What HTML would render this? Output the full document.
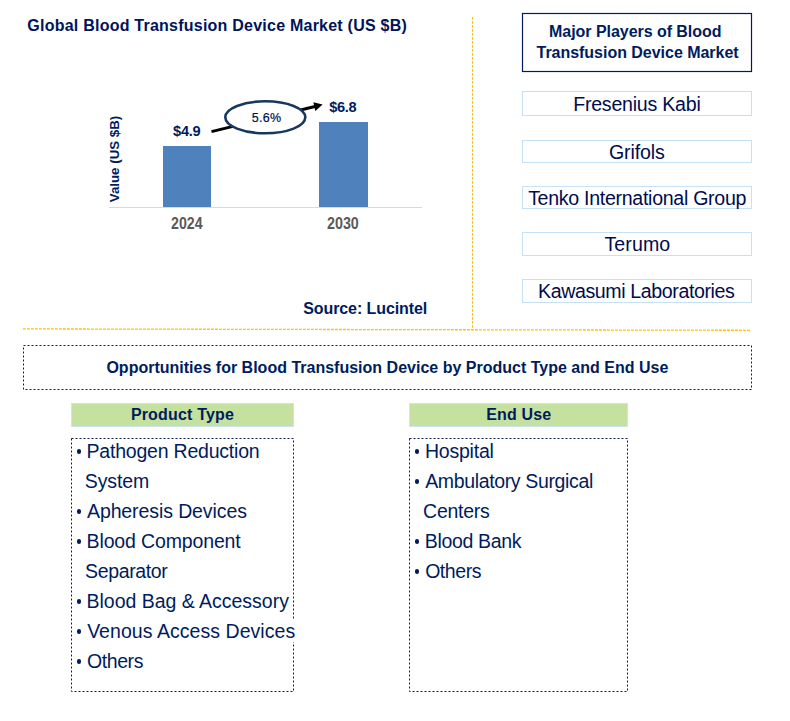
<!DOCTYPE html>
<html><head><meta charset="utf-8">
<style>
html,body{margin:0;padding:0;background:#fff;}
body{width:790px;height:721px;position:relative;overflow:hidden;font-family:"Liberation Sans",sans-serif;}
.t{position:absolute;white-space:nowrap;line-height:1;}
.dot{position:absolute;width:4.6px;height:4.8px;border-radius:50%;background:#001c5e;}
svg{position:absolute;left:0;top:0;}
</style></head>
<body>
<svg width="790" height="721" viewBox="0 0 790 721">
  <line x1="472.5" y1="17" x2="472.5" y2="328" stroke="#ffc000" stroke-width="1.2" stroke-dasharray="2.8 1.2"/>
  <line x1="23" y1="328.9" x2="751" y2="330.3" stroke="#ffc000" stroke-width="1.3" stroke-dasharray="2.8 1.2"/>
  <rect x="109" y="207" width="313" height="1" fill="#d9d9d9"/>
  <rect x="163" y="146" width="48" height="61" fill="#4f81bd"/>
  <rect x="319" y="122" width="49" height="85" fill="#4f81bd"/>
  <line x1="211.5" y1="131.6" x2="316" y2="106.3" stroke="#000" stroke-width="3"/>
  <polygon points="313.4,102.2 322.6,104.4 315.3,110.9" fill="#000"/>
  <ellipse cx="265.3" cy="117.3" rx="40" ry="16" fill="#fff" stroke="#17375e" stroke-width="2.6"/>
  <rect x="522.5" y="13.5" width="229" height="58" fill="none" stroke="#001c5e" stroke-width="1.2"/>
  <rect x="522.5" y="91.5" width="229" height="24" fill="none" stroke="#c6e0f5" stroke-width="1"/>
  <rect x="522.5" y="140.5" width="229" height="22" fill="none" stroke="#c6e0f5" stroke-width="1"/>
  <rect x="522.5" y="186.5" width="229" height="22" fill="none" stroke="#c6e0f5" stroke-width="1"/>
  <rect x="522.5" y="232.5" width="229" height="23" fill="none" stroke="#c6e0f5" stroke-width="1"/>
  <rect x="522.5" y="279.5" width="229" height="23" fill="none" stroke="#c6e0f5" stroke-width="1"/>
  <rect x="23.5" y="345.5" width="728" height="44" fill="none" stroke="#0a1a50" stroke-width="1" stroke-dasharray="2 2"/>
  <rect x="71.5" y="403.5" width="222" height="23" fill="#c4e1a0" stroke="#cde3f0" stroke-width="1"/>
  <rect x="409.5" y="403.5" width="218" height="23" fill="#c4e1a0" stroke="#cde3f0" stroke-width="1"/>
  <rect x="71.5" y="438.5" width="222" height="253" fill="none" stroke="#0a1a50" stroke-width="1" stroke-dasharray="2 2"/>
  <rect x="409.5" y="438.5" width="218" height="253" fill="none" stroke="#0a1a50" stroke-width="1" stroke-dasharray="2 2"/>
  <rect x="291" y="619" width="4" height="23" fill="#fff"/>
</svg>
<div class="t" style="left:115px;top:159px;font-size:13.3px;font-weight:bold;color:#001c5e;transform:translate(-50%,-50%) rotate(-90deg);transform-origin:center">Value (US $B)</div>
<div class="dot" style="left:76.7px;top:449.1px"></div>
<div class="dot" style="left:76.7px;top:509.1px"></div>
<div class="dot" style="left:76.7px;top:539.1px"></div>
<div class="dot" style="left:76.7px;top:599.1px"></div>
<div class="dot" style="left:76.7px;top:629.1px"></div>
<div class="dot" style="left:76.7px;top:659.1px"></div>
<div class="dot" style="left:414.7px;top:449.1px"></div>
<div class="dot" style="left:414.7px;top:479.1px"></div>
<div class="dot" style="left:414.7px;top:539.1px"></div>
<div class="dot" style="left:414.7px;top:569.1px"></div>
<div class="t" style="left:27.31px;top:18.00px;font-size:16px;font-weight:bold;color:#00145a;letter-spacing:0.234px;">Global Blood Transfusion Device Market (US $B)</div>
<div class="t" style="left:173.06px;top:124.15px;font-size:14.6px;font-weight:bold;color:#001c5e;letter-spacing:-0.278px;">$4.9</div>
<div class="t" style="left:329.26px;top:100.10px;font-size:14.6px;font-weight:bold;color:#001c5e;letter-spacing:-0.358px;">$6.8</div>
<div class="t" style="left:171.08px;top:216.15px;font-size:15.6px;font-weight:bold;color:#595959;transform:scaleX(0.9095);transform-origin:0 0;">2024</div>
<div class="t" style="left:327.37px;top:216.15px;font-size:15.6px;font-weight:bold;color:#595959;transform:scaleX(0.9167);transform-origin:0 0;">2030</div>
<div class="t" style="left:251.75px;top:111.80px;font-size:12.5px;font-weight:normal;color:#001050;letter-spacing:0.267px;-webkit-text-stroke:0.2px #001050;">5.6%</div>
<div class="t" style="left:303.19px;top:300.90px;font-size:16px;font-weight:bold;color:#001c5e;letter-spacing:-0.087px;">Source: Lucintel</div>
<div class="t" style="left:549.09px;top:24.15px;font-size:16px;font-weight:bold;color:#001c5e;letter-spacing:-0.048px;">Major Players of Blood</div>
<div class="t" style="left:536.53px;top:45.15px;font-size:16px;font-weight:bold;color:#001c5e;letter-spacing:-0.027px;">Transfusion Device Market</div>
<div class="t" style="left:573.17px;top:95.00px;font-size:19.6px;font-weight:normal;color:#000c4e;letter-spacing:-0.235px;">Fresenius Kabi</div>
<div class="t" style="left:608.99px;top:143.00px;font-size:19.6px;font-weight:normal;color:#000c4e;letter-spacing:-0.145px;">Grifols</div>
<div class="t" style="left:528.13px;top:189.00px;font-size:19.6px;font-weight:normal;color:#000c4e;letter-spacing:-0.299px;">Tenko International Group</div>
<div class="t" style="left:604.43px;top:235.05px;font-size:19.6px;font-weight:normal;color:#000c4e;letter-spacing:0.087px;">Terumo</div>
<div class="t" style="left:537.97px;top:282.45px;font-size:19.6px;font-weight:normal;color:#000c4e;letter-spacing:-0.394px;">Kawasumi Laboratories</div>
<div class="t" style="left:106.41px;top:360.05px;font-size:16px;font-weight:bold;color:#001c5e;letter-spacing:0.005px;">Opportunities for Blood Transfusion Device by Product Type and End Use</div>
<div class="t" style="left:130.89px;top:406.85px;font-size:16px;font-weight:bold;color:#001c5e;letter-spacing:0.170px;">Product Type</div>
<div class="t" style="left:486.19px;top:407.20px;font-size:16px;font-weight:bold;color:#001c5e;letter-spacing:0.166px;">End Use</div>
<div class="t" style="left:86.57px;top:441.95px;font-size:19.5px;font-weight:normal;color:#001c5e;letter-spacing:-0.212px;">Pathogen Reduction</div>
<div class="t" style="left:84.76px;top:471.95px;font-size:19.5px;font-weight:normal;color:#001c5e;letter-spacing:-0.103px;">System</div>
<div class="t" style="left:86.98px;top:501.95px;font-size:19.5px;font-weight:normal;color:#001c5e;letter-spacing:-0.097px;">Apheresis Devices</div>
<div class="t" style="left:86.57px;top:531.95px;font-size:19.5px;font-weight:normal;color:#001c5e;letter-spacing:-0.137px;">Blood Component</div>
<div class="t" style="left:85.06px;top:561.95px;font-size:19.5px;font-weight:normal;color:#001c5e;letter-spacing:-0.358px;">Separator</div>
<div class="t" style="left:86.57px;top:591.95px;font-size:19.5px;font-weight:normal;color:#001c5e;letter-spacing:-0.019px;">Blood Bag &amp; Accessory</div>
<div class="t" style="left:87.15px;top:621.95px;font-size:19.5px;font-weight:normal;color:#001c5e;letter-spacing:0.049px;">Venous Access Devices</div>
<div class="t" style="left:87.03px;top:651.95px;font-size:19.5px;font-weight:normal;color:#001c5e;letter-spacing:-0.418px;">Others</div>
<div class="t" style="left:424.97px;top:441.95px;font-size:19.5px;font-weight:normal;color:#001c5e;letter-spacing:-0.222px;">Hospital</div>
<div class="t" style="left:425.18px;top:471.95px;font-size:19.5px;font-weight:normal;color:#001c5e;letter-spacing:-0.354px;">Ambulatory Surgical</div>
<div class="t" style="left:423.09px;top:501.95px;font-size:19.5px;font-weight:normal;color:#001c5e;letter-spacing:-0.262px;">Centers</div>
<div class="t" style="left:424.77px;top:531.95px;font-size:19.5px;font-weight:normal;color:#001c5e;letter-spacing:-0.342px;">Blood Bank</div>
<div class="t" style="left:425.13px;top:561.95px;font-size:19.5px;font-weight:normal;color:#001c5e;letter-spacing:-0.438px;">Others</div>
</body></html>
